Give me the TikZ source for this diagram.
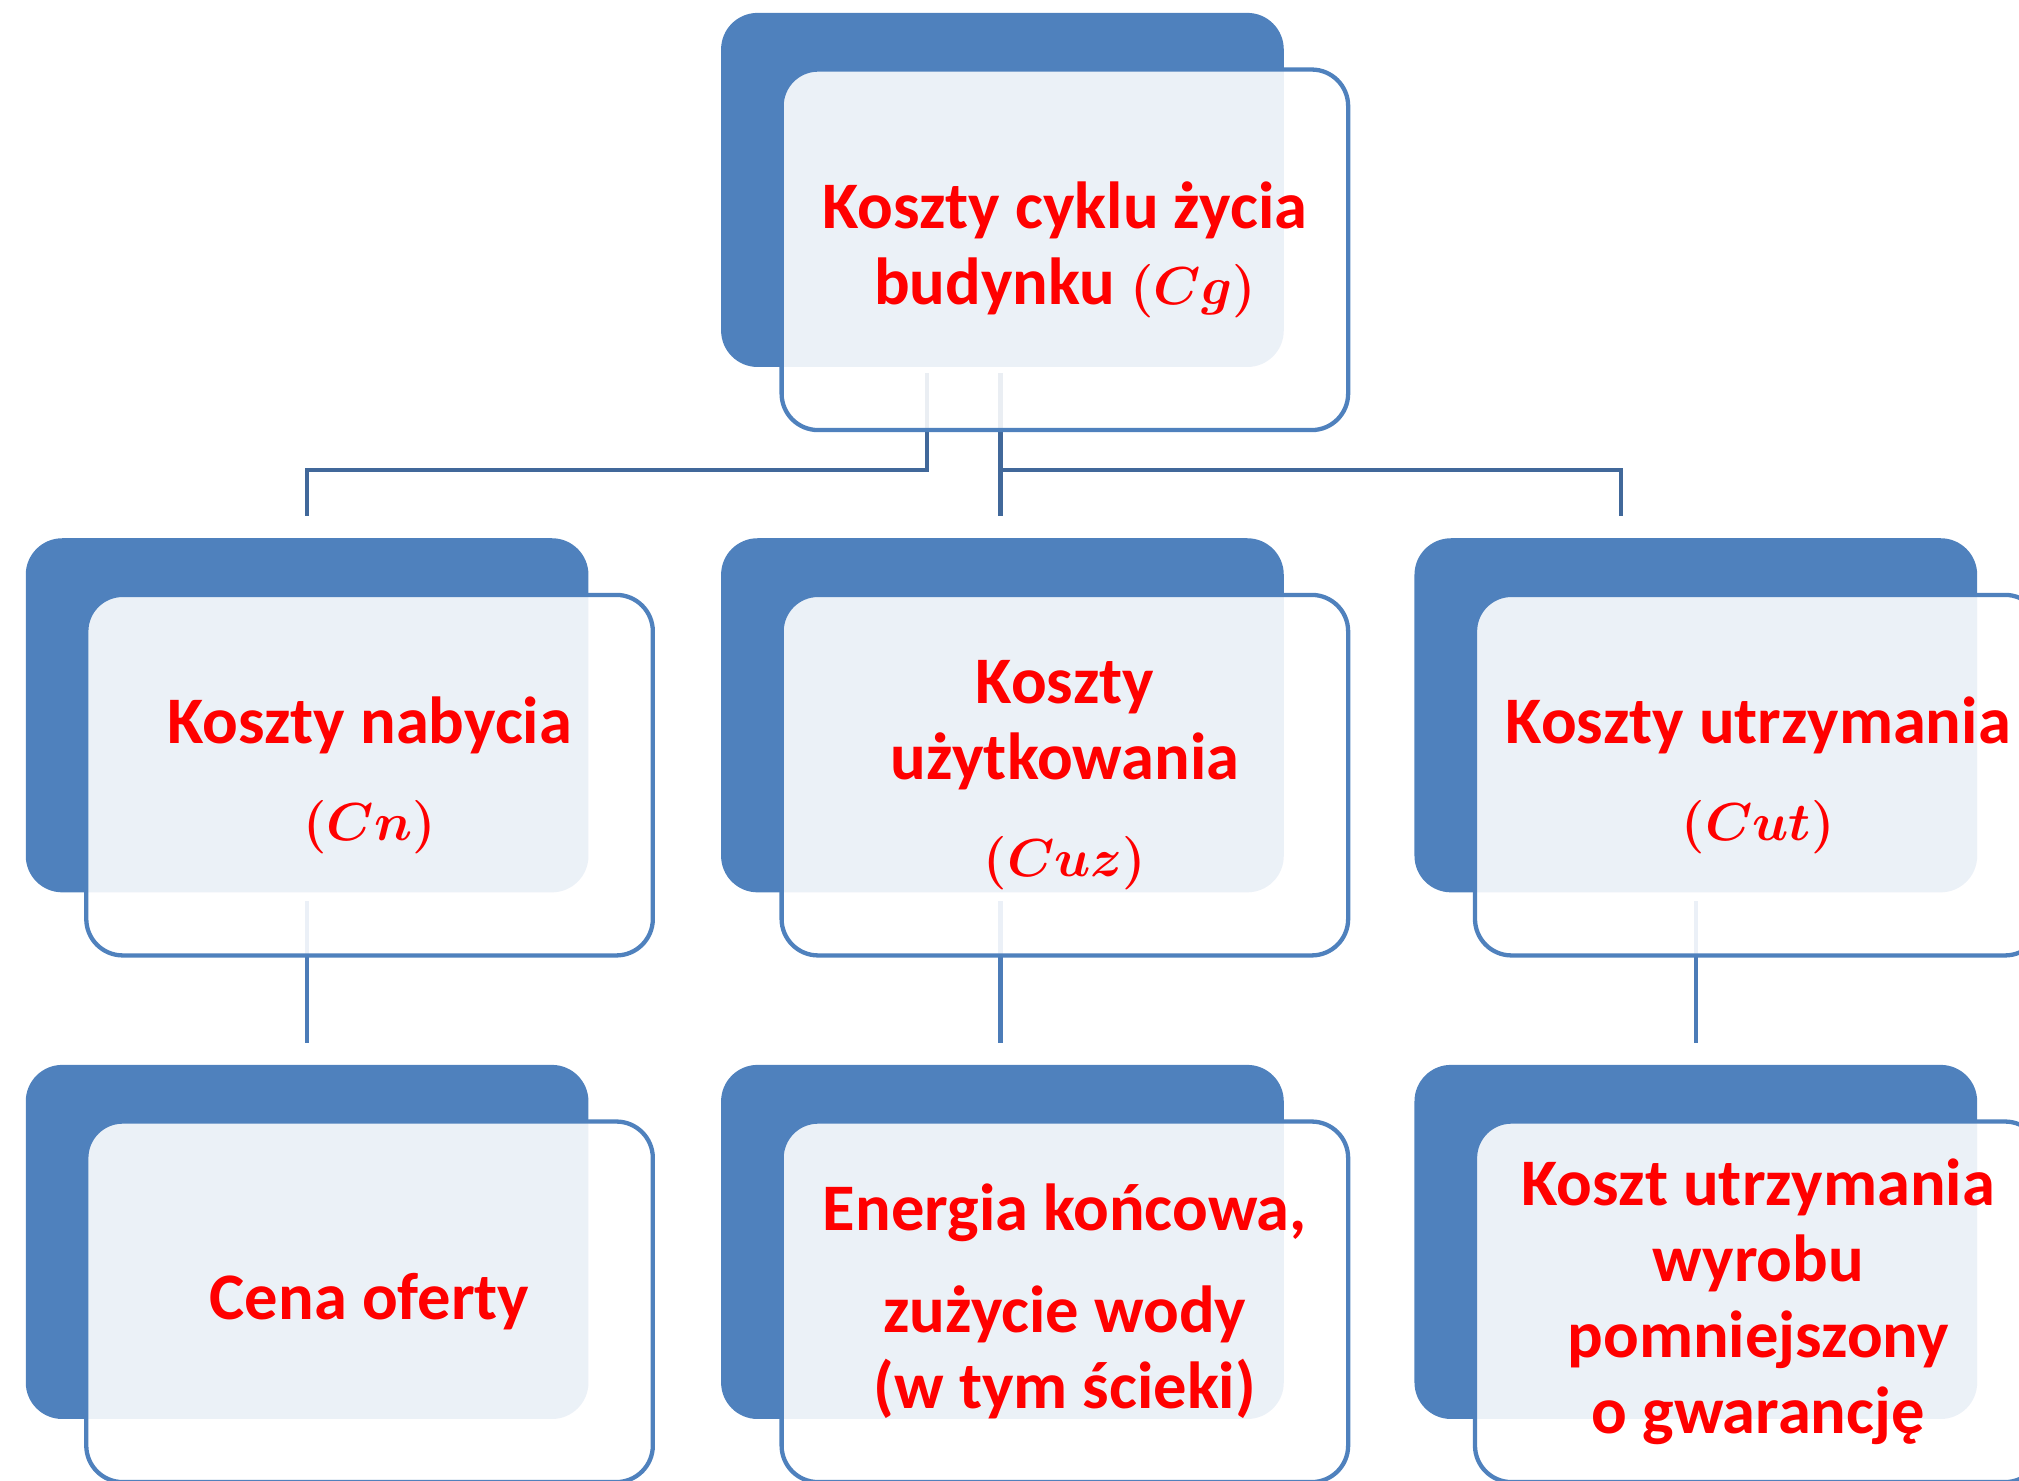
\documentclass[tikz,border=0pt]{standalone}
\usepackage{fontspec}
\setmainfont{Carlito}
\usetikzlibrary{calc}
\definecolor{boxblue}{HTML}{4F81BD}
\definecolor{conndark}{HTML}{41689A}
\definecolor{connlight}{HTML}{4C7CB8}
\definecolor{txtred}{HTML}{FF0000}
\newcommand{\bigmath}[1]{{\fontsize{36}{36}\selectfont\boldmath$#1$}}
\begin{document}
\begin{tikzpicture}[x=0.6pt,y=-0.6pt,
  backbox/.style={draw=none, fill=boxblue, rounded corners=17pt,
    minimum width=262.2pt, minimum height=165pt, inner sep=0pt, outer sep=0pt},
  frontbox/.style={draw=boxblue, line width=2pt, fill=white, fill opacity=0.89,
    text opacity=1, rounded corners=17pt, minimum width=264pt, minimum height=168pt,
    inner sep=0pt, outer sep=0pt, text=txtred, align=center,
    font=\fontsize{31}{35.5}\selectfont\bfseries},
  conntop/.style={draw=conndark, line width=1.9pt},
  connbot/.style={draw=connlight, line width=1.9pt}]
\useasboundingbox (0,0) rectangle (1568,1150);
\clip (0,0) rectangle (1568,1150);
% back boxes
\node[backbox] (b0) at (778.5,147.5) {};
\node[backbox] (b1) at (238.5,555.5) {};
\node[backbox] (b2) at (778.5,555.5) {};
\node[backbox] (b3) at (1317,555.5) {};
\node[backbox] (b4) at (238.5,964.5) {};
\node[backbox] (b5) at (778.5,964.5) {};
\node[backbox] (b6) at (1317,964.5) {};
% connectors
\draw[conntop] ($(b0.south)+(-58.5,5)$) -- ++(0,75) -| ($(b1.north)+(0,-17)$);
\draw[conntop] ($(b0.south)+(-1.5,5)$) -- ($(b2.north)+(-1.5,-17)$);
\draw[conntop] ($(b0.south)+(-1.5,80)$) -| ($(b3.north)+(-58,-17)$);
\draw[connbot] ($(b1.south)+(0,7)$) -- ($(b4.north)+(0,-17)$);
\draw[connbot] ($(b2.south)+(-1.5,7)$) -- ($(b5.north)+(-1.5,-17)$);
\draw[connbot] ($(b3.south)+(0,7)$) -- ($(b6.north)+(0,-17)$);
% front boxes with text
\node[frontbox] (f0) at (827,194) {Koszty cyklu życia\\budynku \bigmath{(Cg)}};
\node[frontbox] (f1) at (287,602) {Koszty nabycia\\[10pt]\bigmath{(Cn)}};
\node[frontbox] (f2) at (827,602) {Koszty\\użytkowania\\[10pt]\bigmath{(Cuz)}};
\node[frontbox] (f3) at (1365.5,602) {Koszty utrzymania\\[10pt]\bigmath{(Cut)}};
\node[frontbox] (f4) at (287,1011) {Cena oferty};
\node[frontbox] (f5) at (827,1011) {Energia końcowa,\\[12pt]zużycie wody\\(w tym ścieki)};
\node[frontbox] (f6) at (1365.5,1011) {Koszt utrzymania\\wyrobu\\pomniejszony\\o gwarancję};
\end{tikzpicture}
\end{document}
